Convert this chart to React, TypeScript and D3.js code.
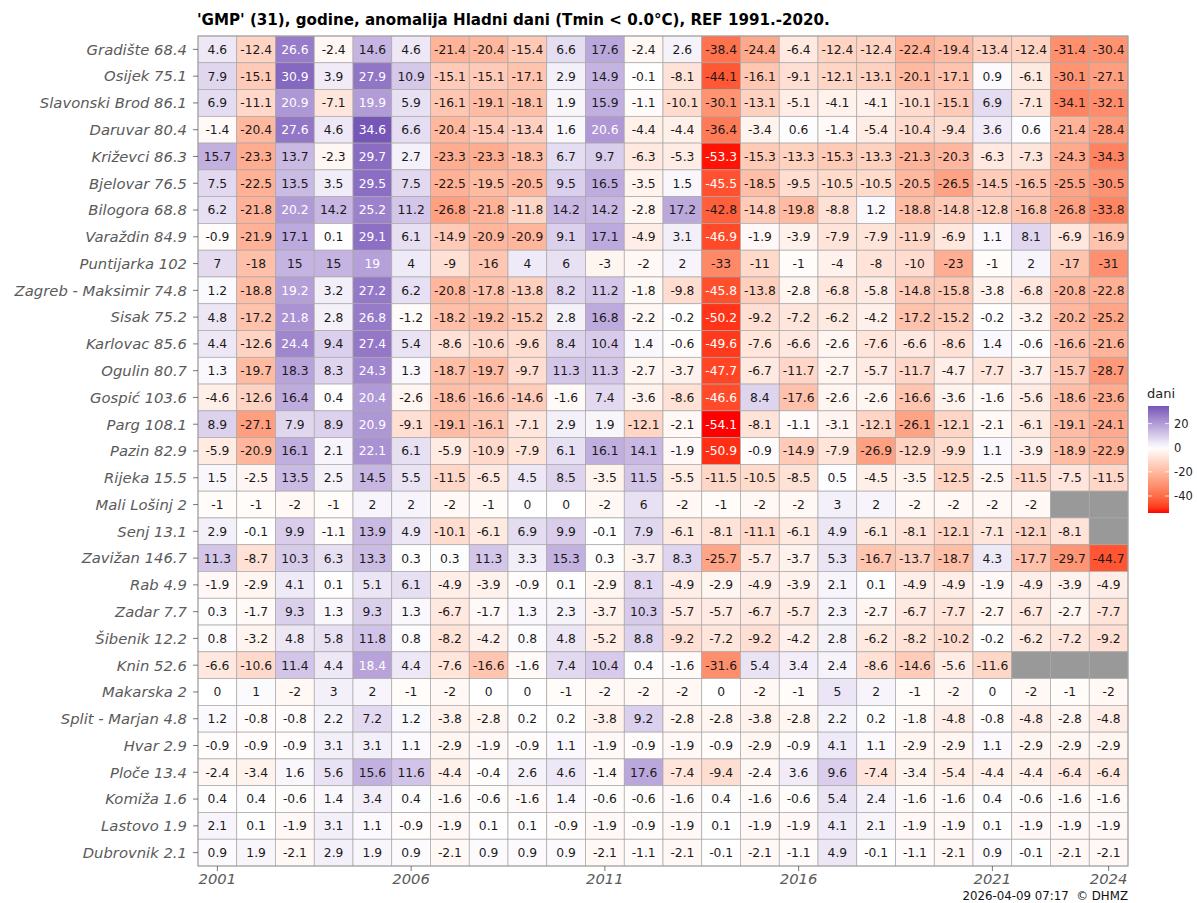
import React from 'react';
import * as d3 from 'd3';

// stations (name + altitude) top to bottom
const stations = [
  'Gradište 68.4', 'Osijek 75.1', 'Slavonski Brod 86.1', 'Daruvar 80.4', 'Križevci 86.3',
  'Bjelovar 76.5', 'Bilogora 68.8', 'Varaždin 84.9', 'Puntijarka 102', 'Zagreb - Maksimir 74.8',
  'Sisak 75.2', 'Karlovac 85.6', 'Ogulin 80.7', 'Gospić 103.6', 'Parg 108.1', 'Pazin 82.9',
  'Rijeka 15.5', 'Mali Lošinj 2', 'Senj 13.1', 'Zavižan 146.7', 'Rab 4.9', 'Zadar 7.7',
  'Šibenik 12.2', 'Knin 52.6', 'Makarska 2', 'Split - Marjan 4.8', 'Hvar 2.9', 'Ploče 13.4',
  'Komiža 1.6', 'Lastovo 1.9', 'Dubrovnik 2.1',
];

const years = d3.range(2001, 2025);
const yearTicks = [2001, 2006, 2011, 2016, 2021, 2024];
const legendTicks = [20, 0, -20, -40];

// anomaly of cold days per station, 2001..2024 (null = no data)
const anomalies: (number | null)[][] = [
  [4.6, -12.4, 26.6, -2.4, 14.6, 4.6, -21.4, -20.4, -15.4, 6.6, 17.6, -2.4, 2.6, -38.4, -24.4, -6.4, -12.4, -12.4, -22.4, -19.4, -13.4, -12.4, -31.4, -30.4],
  [7.9, -15.1, 30.9, 3.9, 27.9, 10.9, -15.1, -15.1, -17.1, 2.9, 14.9, -0.1, -8.1, -44.1, -16.1, -9.1, -12.1, -13.1, -20.1, -17.1, 0.9, -6.1, -30.1, -27.1],
  [6.9, -11.1, 20.9, -7.1, 19.9, 5.9, -16.1, -19.1, -18.1, 1.9, 15.9, -1.1, -10.1, -30.1, -13.1, -5.1, -4.1, -4.1, -10.1, -15.1, 6.9, -7.1, -34.1, -32.1],
  [-1.4, -20.4, 27.6, 4.6, 34.6, 6.6, -20.4, -15.4, -13.4, 1.6, 20.6, -4.4, -4.4, -36.4, -3.4, 0.6, -1.4, -5.4, -10.4, -9.4, 3.6, 0.6, -21.4, -28.4],
  [15.7, -23.3, 13.7, -2.3, 29.7, 2.7, -23.3, -23.3, -18.3, 6.7, 9.7, -6.3, -5.3, -53.3, -15.3, -13.3, -15.3, -13.3, -21.3, -20.3, -6.3, -7.3, -24.3, -34.3],
  [7.5, -22.5, 13.5, 3.5, 29.5, 7.5, -22.5, -19.5, -20.5, 9.5, 16.5, -3.5, 1.5, -45.5, -18.5, -9.5, -10.5, -10.5, -20.5, -26.5, -14.5, -16.5, -25.5, -30.5],
  [6.2, -21.8, 20.2, 14.2, 25.2, 11.2, -26.8, -21.8, -11.8, 14.2, 14.2, -2.8, 17.2, -42.8, -14.8, -19.8, -8.8, 1.2, -18.8, -14.8, -12.8, -16.8, -26.8, -33.8],
  [-0.9, -21.9, 17.1, 0.1, 29.1, 6.1, -14.9, -20.9, -20.9, 9.1, 17.1, -4.9, 3.1, -46.9, -1.9, -3.9, -7.9, -7.9, -11.9, -6.9, 1.1, 8.1, -6.9, -16.9],
  [7, -18, 15, 15, 19, 4, -9, -16, 4, 6, -3, -2, 2, -33, -11, -1, -4, -8, -10, -23, -1, 2, -17, -31],
  [1.2, -18.8, 19.2, 3.2, 27.2, 6.2, -20.8, -17.8, -13.8, 8.2, 11.2, -1.8, -9.8, -45.8, -13.8, -2.8, -6.8, -5.8, -14.8, -15.8, -3.8, -6.8, -20.8, -22.8],
  [4.8, -17.2, 21.8, 2.8, 26.8, -1.2, -18.2, -19.2, -15.2, 2.8, 16.8, -2.2, -0.2, -50.2, -9.2, -7.2, -6.2, -4.2, -17.2, -15.2, -0.2, -3.2, -20.2, -25.2],
  [4.4, -12.6, 24.4, 9.4, 27.4, 5.4, -8.6, -10.6, -9.6, 8.4, 10.4, 1.4, -0.6, -49.6, -7.6, -6.6, -2.6, -7.6, -6.6, -8.6, 1.4, -0.6, -16.6, -21.6],
  [1.3, -19.7, 18.3, 8.3, 24.3, 1.3, -18.7, -19.7, -9.7, 11.3, 11.3, -2.7, -3.7, -47.7, -6.7, -11.7, -2.7, -5.7, -11.7, -4.7, -7.7, -3.7, -15.7, -28.7],
  [-4.6, -12.6, 16.4, 0.4, 20.4, -2.6, -18.6, -16.6, -14.6, -1.6, 7.4, -3.6, -8.6, -46.6, 8.4, -17.6, -2.6, -2.6, -16.6, -3.6, -1.6, -5.6, -18.6, -23.6],
  [8.9, -27.1, 7.9, 8.9, 20.9, -9.1, -19.1, -16.1, -7.1, 2.9, 1.9, -12.1, -2.1, -54.1, -8.1, -1.1, -3.1, -12.1, -26.1, -12.1, -2.1, -6.1, -19.1, -24.1],
  [-5.9, -20.9, 16.1, 2.1, 22.1, 6.1, -5.9, -10.9, -7.9, 6.1, 16.1, 14.1, -1.9, -50.9, -0.9, -14.9, -7.9, -26.9, -12.9, -9.9, 1.1, -3.9, -18.9, -22.9],
  [1.5, -2.5, 13.5, 2.5, 14.5, 5.5, -11.5, -6.5, 4.5, 8.5, -3.5, 11.5, -5.5, -11.5, -10.5, -8.5, 0.5, -4.5, -3.5, -12.5, -2.5, -11.5, -7.5, -11.5],
  [-1, -1, -2, -1, 2, 2, -2, -1, 0, 0, -2, 6, -2, -1, -2, -2, 3, 2, -2, -2, -2, -2, null, null],
  [2.9, -0.1, 9.9, -1.1, 13.9, 4.9, -10.1, -6.1, 6.9, 9.9, -0.1, 7.9, -6.1, -8.1, -11.1, -6.1, 4.9, -6.1, -8.1, -12.1, -7.1, -12.1, -8.1, null],
  [11.3, -8.7, 10.3, 6.3, 13.3, 0.3, 0.3, 11.3, 3.3, 15.3, 0.3, -3.7, 8.3, -25.7, -5.7, -3.7, 5.3, -16.7, -13.7, -18.7, 4.3, -17.7, -29.7, -44.7],
  [-1.9, -2.9, 4.1, 0.1, 5.1, 6.1, -4.9, -3.9, -0.9, 0.1, -2.9, 8.1, -4.9, -2.9, -4.9, -3.9, 2.1, 0.1, -4.9, -4.9, -1.9, -4.9, -3.9, -4.9],
  [0.3, -1.7, 9.3, 1.3, 9.3, 1.3, -6.7, -1.7, 1.3, 2.3, -3.7, 10.3, -5.7, -5.7, -6.7, -5.7, 2.3, -2.7, -6.7, -7.7, -2.7, -6.7, -2.7, -7.7],
  [0.8, -3.2, 4.8, 5.8, 11.8, 0.8, -8.2, -4.2, 0.8, 4.8, -5.2, 8.8, -9.2, -7.2, -9.2, -4.2, 2.8, -6.2, -8.2, -10.2, -0.2, -6.2, -7.2, -9.2],
  [-6.6, -10.6, 11.4, 4.4, 18.4, 4.4, -7.6, -16.6, -1.6, 7.4, 10.4, 0.4, -1.6, -31.6, 5.4, 3.4, 2.4, -8.6, -14.6, -5.6, -11.6, null, null, null],
  [0, 1, -2, 3, 2, -1, -2, 0, 0, -1, -2, -2, -2, 0, -2, -1, 5, 2, -1, -2, 0, -2, -1, -2],
  [1.2, -0.8, -0.8, 2.2, 7.2, 1.2, -3.8, -2.8, 0.2, 0.2, -3.8, 9.2, -2.8, -2.8, -3.8, -2.8, 2.2, 0.2, -1.8, -4.8, -0.8, -4.8, -2.8, -4.8],
  [-0.9, -0.9, -0.9, 3.1, 3.1, 1.1, -2.9, -1.9, -0.9, 1.1, -1.9, -0.9, -1.9, -0.9, -2.9, -0.9, 4.1, 1.1, -2.9, -2.9, 1.1, -2.9, -2.9, -2.9],
  [-2.4, -3.4, 1.6, 5.6, 15.6, 11.6, -4.4, -0.4, 2.6, 4.6, -1.4, 17.6, -7.4, -9.4, -2.4, 3.6, 9.6, -7.4, -3.4, -5.4, -4.4, -4.4, -6.4, -6.4],
  [0.4, 0.4, -0.6, 1.4, 3.4, 0.4, -1.6, -0.6, -1.6, 1.4, -0.6, -0.6, -1.6, 0.4, -1.6, -0.6, 5.4, 2.4, -1.6, -1.6, 0.4, -0.6, -1.6, -1.6],
  [2.1, 0.1, -1.9, 3.1, 1.1, -0.9, -1.9, 0.1, 0.1, -0.9, -1.9, -0.9, -1.9, 0.1, -1.9, -1.9, 4.1, 2.1, -1.9, -1.9, 0.1, -1.9, -1.9, -1.9],
  [0.9, 1.9, -2.1, 2.9, 1.9, 0.9, -2.1, 0.9, 0.9, 0.9, -2.1, -1.1, -2.1, -0.1, -2.1, -1.1, 4.9, -0.1, -1.1, -2.1, 0.9, -0.1, -2.1, -2.1],
];

const W = 1197;
const H = 903;
const margin = { top: 36, right: 69, bottom: 37, left: 198 };
const font = '"DejaVu Sans", sans-serif';

const allValues = anomalies.flat().filter((v): v is number => v !== null);
const vMin = d3.min(allValues)!;
const vMax = d3.max(allValues)!;

const color = d3
  .scaleLinear<string>()
  .domain([vMin, 0, vMax])
  .range(['#ff0000', '#ffffff', '#7657b8'])
  .interpolate(d3.interpolateLab);

const App = () => {
  const x = d3
    .scaleBand<number>()
    .domain(years)
    .range([margin.left, W - margin.right]);
  const y = d3
    .scaleBand<string>()
    .domain(stations)
    .range([margin.top, H - margin.bottom]);

  // legend
  const legTop = 406;
  const legBottom = 513;
  const legX = 1148;
  const legW = 21;
  const legY = d3.scaleLinear().domain([vMin, vMax]).range([legBottom, legTop]);
  const stops = d3.range(0, 1.0001, 0.05).map(t => vMax - t * (vMax - vMin));

  return (
    <svg width={W} height={H} style={{ position: 'absolute', left: 0, top: 0, background: 'white' }}>
      <text x={197} y={25} fontFamily={font} fontWeight="bold" fontSize={15.1} fill="#000">
        'GMP' (31), godine, anomalija Hladni dani (Tmin &lt; 0.0°C), REF 1991.-2020.
      </text>

      {/* cells */}
      {anomalies.map((row, i) =>
        row.map((v, j) => {
          const cx = x(years[j])!;
          const cy = y(stations[i])!;
          return (
            <g key={`${i}-${j}`}>
              <rect
                x={cx}
                y={cy}
                width={x.bandwidth()}
                height={y.bandwidth()}
                fill={v === null ? '#999999' : color(v)}
                stroke="#a8a8a8"
                strokeWidth={0.7}
              />
              {v !== null && (
                <text
                  x={cx + x.bandwidth() / 2}
                  y={cy + y.bandwidth() / 2}
                  dy="0.36em"
                  textAnchor="middle"
                  fontFamily={font}
                  fontSize={12.3}
                  fill={v > 18.35 || v < -45 ? '#ffffff' : '#1a1a1a'}
                >
                  {String(v)}
                </text>
              )}
            </g>
          );
        })
      )}

      {/* panel border */}
      <rect
        x={margin.left}
        y={margin.top}
        width={W - margin.right - margin.left}
        height={H - margin.bottom - margin.top}
        fill="none"
        stroke="#a0a0a0"
        strokeWidth={1}
      />

      {/* y axis */}
      {stations.map(s => {
        const cy = y(s)! + y.bandwidth() / 2;
        return (
          <g key={s}>
            <line x1={margin.left - 5} x2={margin.left} y1={cy} y2={cy} stroke="#555" strokeWidth={0.8} />
            <text
              x={margin.left - 11}
              y={cy}
              dy="0.36em"
              textAnchor="end"
              fontFamily={font}
              fontStyle="italic"
              fontSize={14.8}
              fill="#5a5a5a"
            >
              {s}
            </text>
          </g>
        );
      })}

      {/* x axis */}
      {yearTicks.map(t => {
        const cx = x(t)! + x.bandwidth() / 2;
        const by = H - margin.bottom;
        return (
          <g key={t}>
            <line x1={cx} x2={cx} y1={by} y2={by + 5} stroke="#555" strokeWidth={0.8} />
            <text x={cx} y={by + 18} textAnchor="middle" fontFamily={font} fontStyle="italic" fontSize={14.8} fill="#5a5a5a">
              {t}
            </text>
          </g>
        );
      })}

      {/* legend */}
      <defs>
        <linearGradient id="leg" x1="0" y1="0" x2="0" y2="1">
          {stops.map((v, k) => (
            <stop key={k} offset={`${(k / (stops.length - 1)) * 100}%`} stopColor={color(v)} />
          ))}
        </linearGradient>
      </defs>
      <text x={legX - 1} y={398} fontFamily={font} fontSize={13} fill="#222">
        dani
      </text>
      <rect x={legX} y={legTop} width={legW} height={legBottom - legTop} fill="url(#leg)" />
      {legendTicks.map(t => (
        <g key={t}>
          <line x1={legX} x2={legX + 4} y1={legY(t)} y2={legY(t)} stroke="#fff" strokeWidth={0.8} />
          <line x1={legX + legW - 4} x2={legX + legW} y1={legY(t)} y2={legY(t)} stroke="#fff" strokeWidth={0.8} />
          <text x={legX + legW + 5} y={legY(t)} dy="0.36em" fontFamily={font} fontSize={11.5} fill="#222">
            {t}
          </text>
        </g>
      ))}

      <text
        x={W - margin.right}
        y={900}
        textAnchor="end"
        fontFamily={font}
        fontSize={11.8}
        fill="#111"
        style={{ whiteSpace: 'pre' }}
      >
        {'2026-04-09 07:17  © DHMZ'}
      </text>
    </svg>
  );
};

export default App;
